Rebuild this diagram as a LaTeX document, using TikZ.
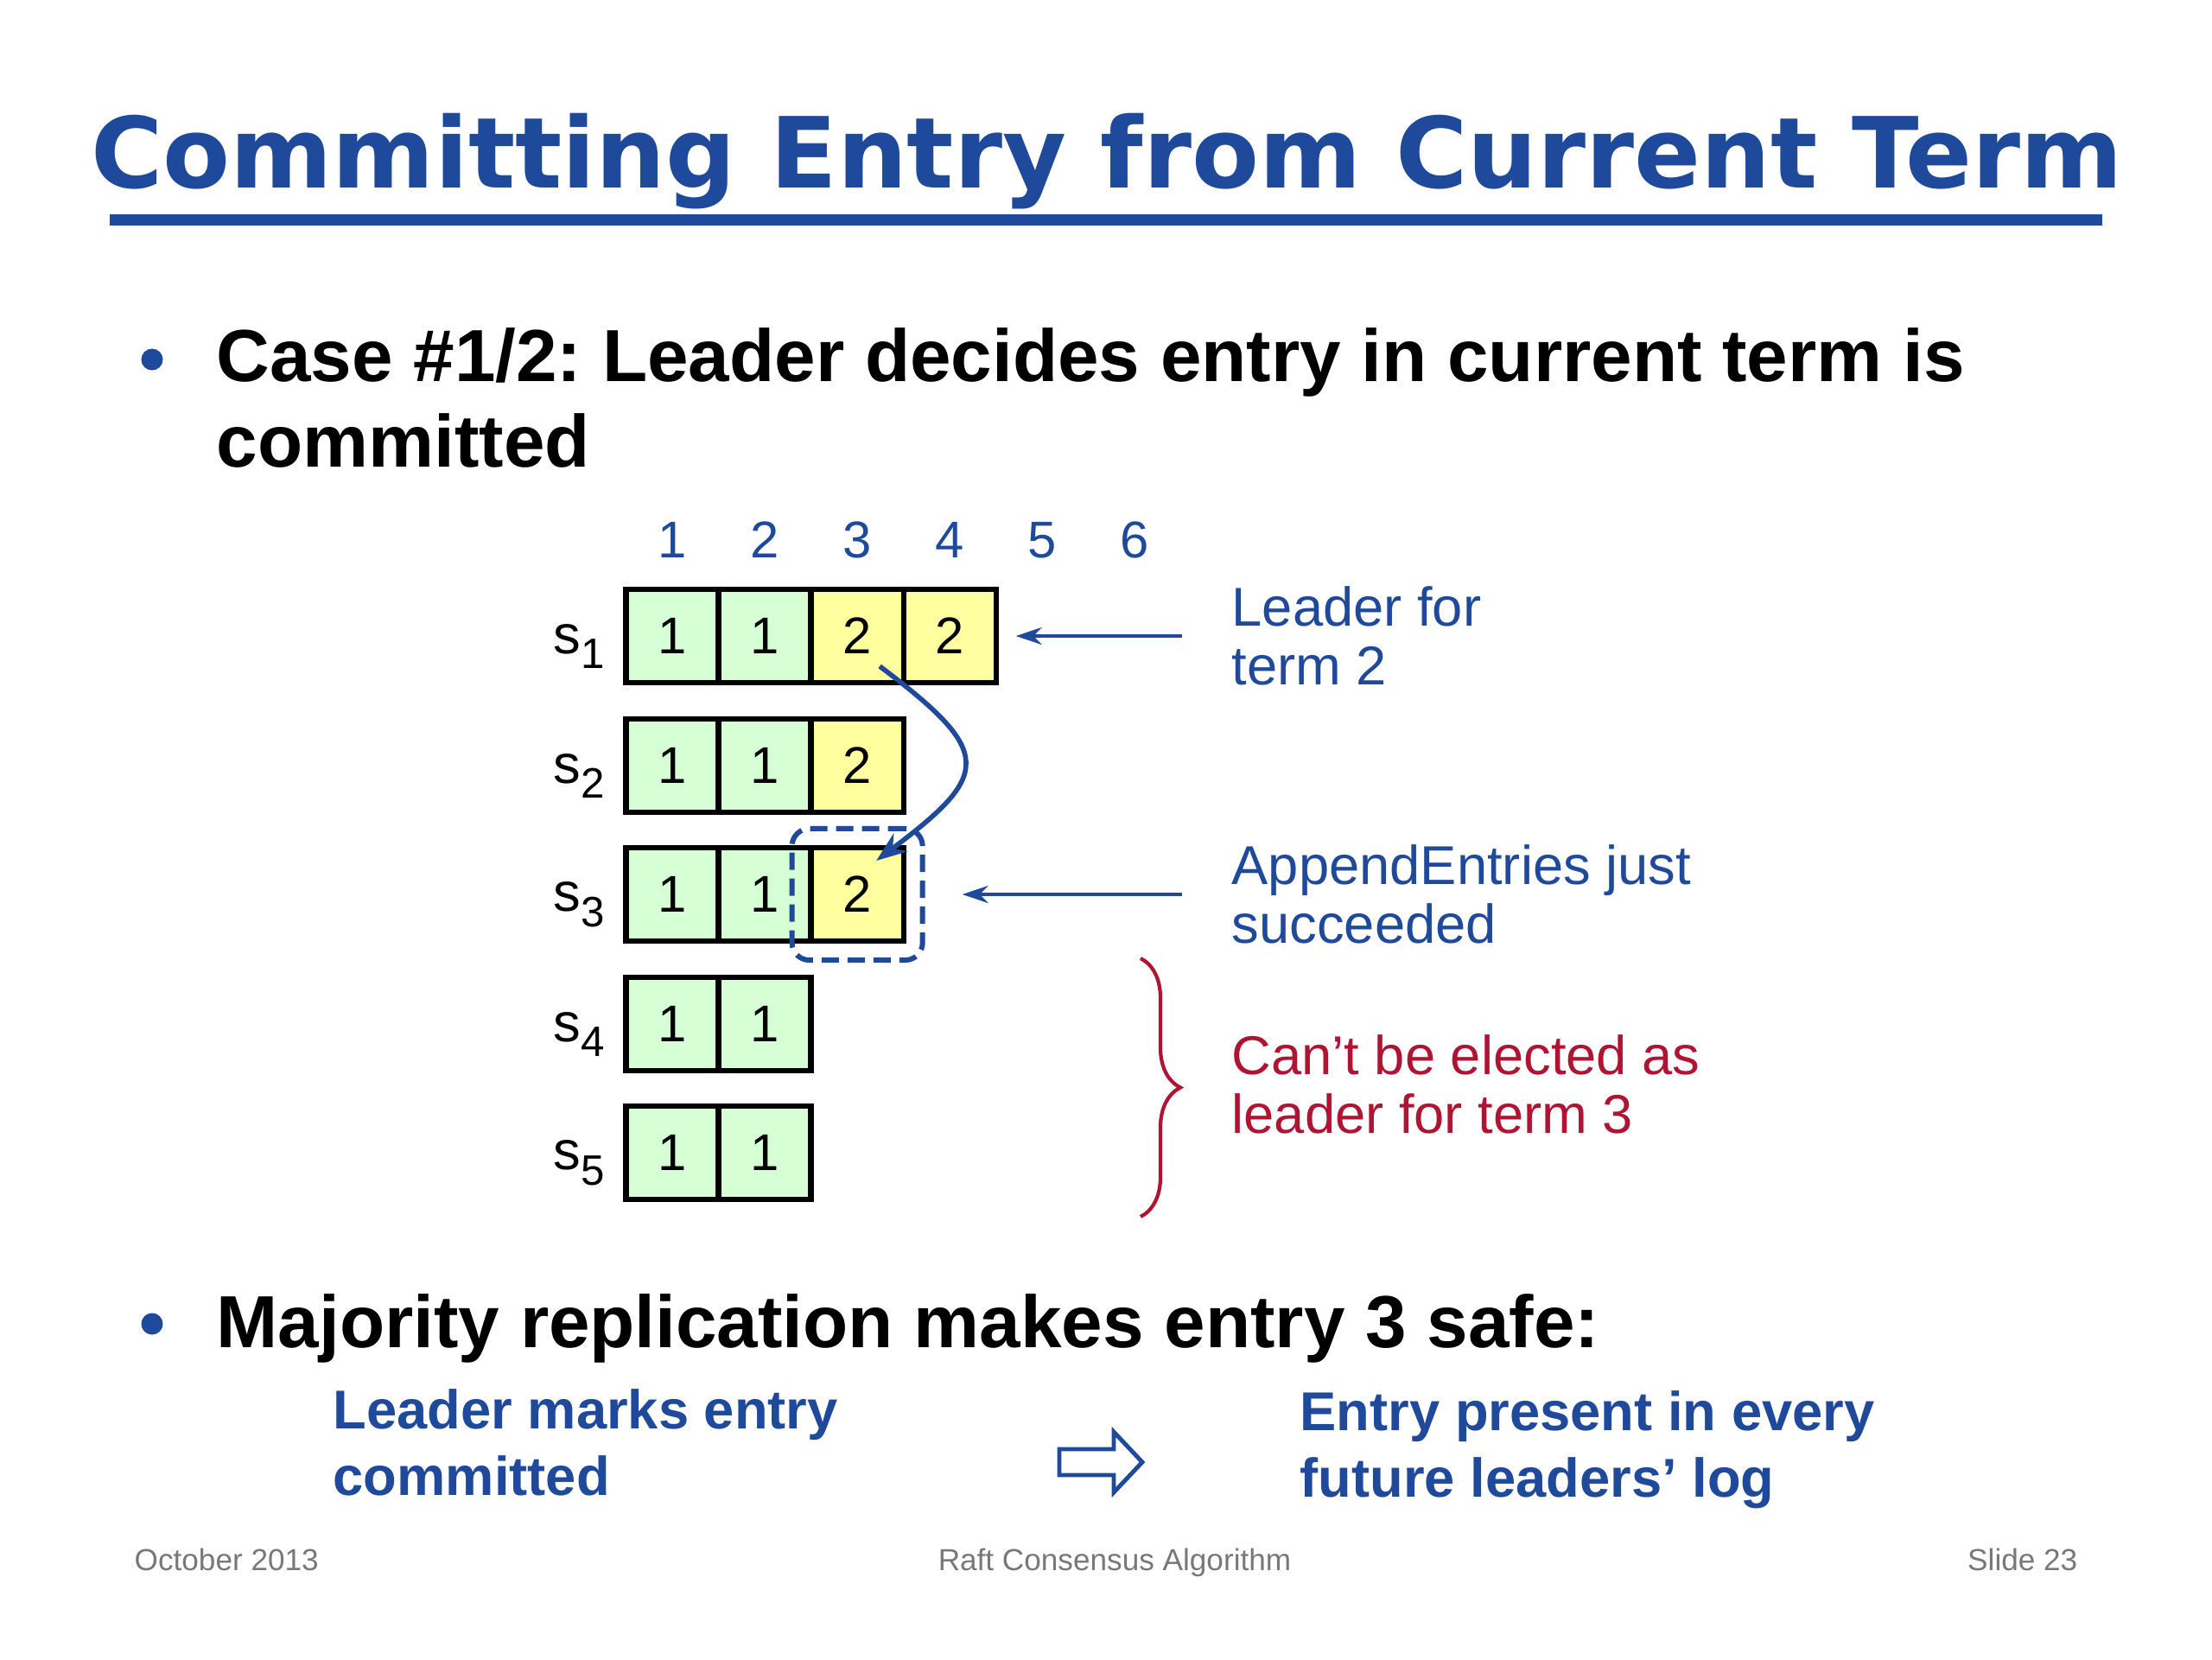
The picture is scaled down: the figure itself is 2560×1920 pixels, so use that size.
\documentclass[tikz,border=0pt]{standalone}
\usepackage{fontspec}
\setmainfont{Liberation Sans}
\newfontfamily\titlefont{DejaVu Sans}
\usepackage{tikz}
\usetikzlibrary{shapes,arrows.meta,positioning,fit,decorations.pathreplacing}
\definecolor{SlideBlue}{RGB}{31, 73, 155}
\definecolor{SlideRed}{RGB}{175, 20, 50}
\definecolor{TermOne}{RGB}{214, 255, 214}
\definecolor{TermTwo}{RGB}{255, 255, 160}
\definecolor{FootGray}{RGB}{120, 120, 120}
\frenchspacing
\newcommand{\srvname}[1]{s\raisebox{-0.28em}{\fontsize{14}{16}\selectfont #1}}

\tikzset{
  cell/.style={draw, line width=1.8pt, outer sep=0pt, inner sep=0pt,
    minimum width=1.07cm, minimum height=1.08cm, font=\fontsize{17}{19}\selectfont},
  oldterm/.style={cell, fill=TermOne},
  newterm/.style={cell, fill=TermTwo},
  idx/.style={text=SlideBlue, inner sep=0pt, font=\fontsize{17}{19}\selectfont},
  srv/.style={inner sep=0pt, yshift=-0.12cm, font=\fontsize{18}{20}\selectfont},
  note/.style={text=SlideBlue, inner sep=0pt, anchor=west, align=left,
    font=\fontsize{18}{19.3}\selectfont},
  body/.style={inner sep=0pt, anchor=base west, font=\bfseries\fontsize{24.3}{28}\selectfont},
  claim/.style={text=SlideBlue, inner sep=0pt, anchor=west, align=left,
    font=\bfseries\fontsize{18}{21.9}\selectfont},
  foot/.style={text=FootGray, inner sep=0pt, font=\fontsize{10}{12}\selectfont},
  ptr/.style={SlideBlue, line width=1.1pt, -{Stealth[length=0.3cm,width=0.2cm]}},
  pick/.style={draw=SlideBlue, line width=1.7pt, dash pattern=on 0.2cm off 0.1cm,
    rounded corners=0.2cm, inner sep=0.22cm, outer sep=0pt},
}

\begin{document}
\begin{tikzpicture}[x=0.01cm, y=-0.01cm]
    \useasboundingbox (0,0) rectangle (2560,1920);

    % title
    \node[anchor=base, inner sep=0pt, text=SlideBlue,
      font=\titlefont\bfseries\fontsize{32.3}{36}\selectfont] (title) at (1281,217)
      {Committing Entry from Current Term};
    \fill[SlideBlue] (127,248) rectangle (2433,261);

    % bullets
    \fill[SlideBlue] (176,416) circle[radius=0.125cm];
    \node[body] (case) at (250,441) {Case \#1/2: Leader decides entry in current term is};
    \node[body] (casetail) at (250,540) {committed};

    % log indices
    \node[idx] (i1) at (778,625) {1};
    \node[idx] (i2) at (885,625) {2};
    \node[idx] (i3) at (992,625) {3};
    \node[idx] (i4) at (1099,625) {4};
    \node[idx] (i5) at (1206,625) {5};
    \node[idx] (i6) at (1313,625) {6};

    % logs
    \node[oldterm] (s1e1) at (778,736) {1};
    \node[oldterm, right=0pt of s1e1] (s1e2) {1};
    \node[newterm, right=0pt of s1e2] (s1e3) {2};
    \node[newterm, right=0pt of s1e3] (s1e4) {2};

    \node[oldterm] (s2e1) at (778,886) {1};
    \node[oldterm, right=0pt of s2e1] (s2e2) {1};
    \node[newterm, right=0pt of s2e2] (s2e3) {2};

    \node[oldterm] (s3e1) at (778,1035) {1};
    \node[oldterm, right=0pt of s3e1] (s3e2) {1};
    \node[newterm, right=0pt of s3e2] (s3e3) {2};

    \node[oldterm] (s4e1) at (778,1185) {1};
    \node[oldterm, right=0pt of s4e1] (s4e2) {1};

    \node[oldterm] (s5e1) at (778,1334) {1};
    \node[oldterm, right=0pt of s5e1] (s5e2) {1};

    \node[srv, left=0.24cm of s1e1] (s1) {\srvname{1}};
    \node[srv, left=0.24cm of s2e1] (s2) {\srvname{2}};
    \node[srv, left=0.24cm of s3e1] (s3) {\srvname{3}};
    \node[srv, left=0.24cm of s4e1] (s4) {\srvname{4}};
    \node[srv, left=0.24cm of s5e1] (s5) {\srvname{5}};

    \node[pick, fit=(s3e3)] (win) {};
    \draw[SlideBlue, line width=1.6pt, -{Stealth[length=0.35cm,width=0.26cm]}]
      ([shift={(26,35)}]s1e3.center) .. controls +(133,100) and +(133,-100) .. ([shift={(22,-39)}]s3e3.center);

    % notes
    \node[note] (lead) at (1425,736) {Leader for\\term 2};
    \node[note] (just) at (1425,1035) {AppendEntries just\\succeeded};
    \node[note, text=SlideRed] (noelect) at (1425,1255) {Can’t be elected as\\leader for term 3};
    \draw[ptr, shorten <=0.57cm, shorten >=0.23cm] (lead.west) -- (s1e4.east);
    \draw[ptr, shorten <=0.57cm, shorten >=0.46cm] (just.west) -- (win.east);
    \draw[SlideRed, line width=1.2pt, decorate, decoration={brace, amplitude=0.46cm}]
      (1320,1109) -- (1320,1408);

    % second bullet
    \fill[SlideBlue] (176,1532) circle[radius=0.125cm];
    \node[body] (majority) at (250,1559) {Majority replication makes entry 3 safe:};
    \node[claim] (marks) at (385,1669) {Leader marks entry\\committed};
    \node[claim] (present) at (1504,1678) {Entry present in every\\future leaders’ log};
    \draw[SlideBlue, line width=1.4pt, fill=white] (1226,1677) -- (1289,1677) -- (1289,1657)
      -- (1322,1692) -- (1289,1727) -- (1289,1707) -- (1226,1707) -- cycle;

    % footer
    \node[foot, anchor=base west] (date) at (155,1817) {October 2013};
    \node[foot, anchor=base] (talk) at (1290,1817) {Raft Consensus Algorithm};
    \node[foot, anchor=base east] (slide) at (2405,1817) {Slide 23};
  \end{tikzpicture}
\end{document}
